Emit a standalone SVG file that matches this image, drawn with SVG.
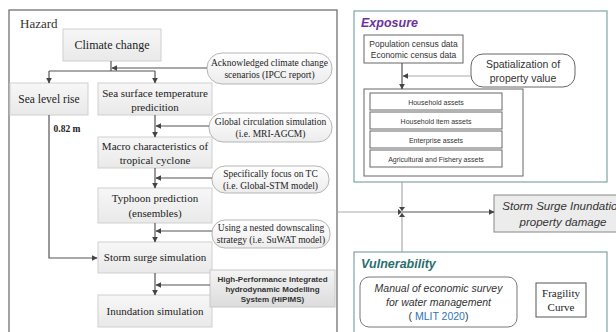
<svg xmlns="http://www.w3.org/2000/svg" width="616" height="332" viewBox="0 0 616 332">
<defs>
<linearGradient id="gbox" x1="0" y1="0" x2="0" y2="1"><stop offset="0" stop-color="#f7f7f7"/><stop offset="1" stop-color="#e9e9e9"/></linearGradient>
<linearGradient id="gpill" x1="0" y1="0" x2="0" y2="1"><stop offset="0" stop-color="#ffffff"/><stop offset="1" stop-color="#ececec"/></linearGradient>
<linearGradient id="ghip" x1="0" y1="0" x2="0" y2="1"><stop offset="0" stop-color="#f4f4f4"/><stop offset="1" stop-color="#dcdcdc"/></linearGradient>
<marker id="ah" viewBox="0 0 10 10" refX="9" refY="5" markerWidth="5" markerHeight="5" orient="auto"><path d="M0,0 L10,5 L0,10 z" fill="#444"/></marker>
<style>
.frame{fill:#fff;stroke:#666;stroke-width:1.2}
.box{fill:url(#gbox);stroke:#cfcfcf;stroke-width:1}
.pill{fill:url(#gpill);stroke:#b5b5b5;stroke-width:1}
.ser{font-family:"Liberation Serif","Times New Roman",serif;fill:#222;text-anchor:middle}
.sans{font-family:"Liberation Sans",Arial,sans-serif;fill:#333;text-anchor:middle}
.ln{fill:none;stroke:#555;stroke-width:1.2}
.lg{fill:none;stroke:#aaa;stroke-width:1.2}
.ebox{fill:#fff;stroke:#666;stroke-width:1}
.tf{fill:#fff;stroke:#7fa3a6;stroke-width:1.2}
</style>
</defs>
<rect width="616" height="332" fill="#fff"/>

<g id="hazard-frame">
<rect class="frame" x="9" y="10" width="328" height="330"/>
<text x="20" y="28" font-family="Liberation Serif,serif" font-size="13" fill="#333">Hazard</text>
</g>

<g id="climate-change"><rect class="box" x="63" y="29" width="98" height="32"/><text class="ser" x="112" y="49" font-size="12">Climate change</text></g>
<g id="sea-level-rise"><rect class="box" x="10" y="83" width="78" height="32"/><text class="ser" x="49" y="103" font-size="11.5">Sea level rise</text></g>
<g id="sst"><rect class="box" x="98" y="83" width="114" height="32"/><text class="ser" x="155" y="97" font-size="11">Sea surface temperature</text><text class="ser" x="155" y="111" font-size="11">predicition</text></g>
<g id="macro"><rect class="box" x="98" y="137" width="114" height="31"/><text class="ser" x="155" y="150" font-size="11">Macro characteristics of</text><text class="ser" x="155" y="164" font-size="11">tropical cyclone</text></g>
<g id="typhoon"><rect class="box" x="98" y="188" width="114" height="35"/><text class="ser" x="155" y="202" font-size="11">Typhoon prediction</text><text class="ser" x="155" y="217" font-size="11">(ensembles)</text></g>
<g id="storm-surge"><rect class="box" x="98" y="242" width="114" height="31"/><text class="ser" x="155" y="261" font-size="11">Storm surge simulation</text></g>
<g id="inundation"><rect class="box" x="98" y="295" width="114" height="32"/><text class="ser" x="155" y="315" font-size="11">Inundation simulation</text></g>
<text class="ser" x="67" y="132" font-size="9.5" font-weight="bold">0.82 m</text>

<g id="ipcc"><rect class="pill" x="207" y="53" width="125" height="31" rx="15"/><text class="ser" x="269.5" y="66" font-size="9.5">Acknowledged climate change</text><text class="ser" x="269.5" y="78" font-size="9.5">scenarios (IPCC report)</text></g>
<g id="agcm"><rect class="pill" x="209" y="113" width="123" height="29" rx="14"/><text class="ser" x="270.5" y="125" font-size="9.5">Global circulation simulation</text><text class="ser" x="270.5" y="137" font-size="9.5">(i.e. MRI-AGCM)</text></g>
<g id="stm"><rect class="pill" x="212" y="166" width="117" height="27" rx="13"/><text class="ser" x="270.5" y="177" font-size="9.5">Specifically focus on TC</text><text class="ser" x="270.5" y="189" font-size="9.5">(i.e. Global-STM model)</text></g>
<g id="suwat"><rect class="pill" x="212" y="220" width="118" height="28" rx="13"/><text class="ser" x="271" y="231" font-size="9.5">Using a nested downscaling</text><text class="ser" x="271" y="243" font-size="9.5">strategy  (i.e. SuWAT model)</text></g>
<g id="hipims"><rect x="210" y="270" width="125" height="37" fill="url(#ghip)" stroke="#c8c8c8"/><text class="sans" x="272.5" y="282" font-size="8" font-weight="bold" fill="#222">High-Performance Integrated</text><text class="sans" x="272.5" y="292" font-size="8" font-weight="bold" fill="#222">hydrodynamic Modelling</text><text class="sans" x="272.5" y="302" font-size="8" font-weight="bold" fill="#222">System (HiPIMS)</text></g>

<g id="exposure-frame">
<rect class="tf" x="354" y="11" width="253" height="171"/>
<text x="361" y="27" font-family="Liberation Sans,Arial,sans-serif" font-size="12.5" font-weight="bold" font-style="italic" fill="#7030a0">Exposure</text>
</g>
<g id="census"><rect class="ebox" x="364" y="35" width="99" height="28"/><text class="sans" x="413.5" y="47" font-size="8.5">Population census data</text><text class="sans" x="413.5" y="58" font-size="8.5">Economic census data</text></g>
<g id="spatialization"><rect class="ebox" x="471" y="54" width="104" height="33" rx="12" stroke="#555"/><text class="sans" x="523" y="68" font-size="10.5">Spatialization of</text><text class="sans" x="523" y="82" font-size="10.5">property value</text></g>
<g id="assets">
<rect class="ebox" x="364" y="89" width="159" height="87"/>
<rect class="ebox" x="370" y="93" width="132" height="17"/><text class="sans" x="436" y="104.5" font-size="7">Household assets</text>
<rect class="ebox" x="370" y="112" width="132" height="17"/><text class="sans" x="436" y="123.5" font-size="7">Household item assets</text>
<rect class="ebox" x="370" y="131" width="132" height="17"/><text class="sans" x="436" y="142.5" font-size="7">Enterprise assets</text>
<rect class="ebox" x="370" y="150" width="132" height="17"/><text class="sans" x="436" y="161.5" font-size="7">Agricultural and Fishery assets</text>
</g>

<g id="damage"><rect x="494" y="195" width="140" height="37" fill="#ececec" stroke="#888"/><text class="sans" x="563" y="210" font-size="11.5" font-style="italic" fill="#222">Storm Surge Inundation</text><text class="sans" x="563" y="226" font-size="11.5" font-style="italic" fill="#222">property damage</text></g>

<g id="vulnerability-frame">
<rect class="tf" x="354" y="252" width="253" height="90"/>
<text x="361" y="268" font-family="Liberation Sans,Arial,sans-serif" font-size="12.5" font-weight="bold" font-style="italic" fill="#2a6e70">Vulnerability</text>
</g>
<g id="manual"><rect x="360" y="277" width="157" height="50" rx="9" fill="#fff" stroke="#777"/><text class="sans" x="438.5" y="292" font-size="10.5" font-style="italic">Manual of economic survey</text><text class="sans" x="438.5" y="306" font-size="10.5" font-style="italic">for water management</text><text class="sans" x="438.5" y="320" font-size="10.5">( <tspan fill="#2e75b6">MLIT 2020</tspan>)</text></g>
<g id="fragility"><rect x="536" y="283" width="50" height="34" fill="#fff" stroke="#555"/><text class="ser" x="561" y="297" font-size="11">Fragility</text><text class="ser" x="561" y="311" font-size="11">Curve</text></g>

<g id="connectors">
<path class="ln" d="M111,61 V71 M49,71 H155"/>
<path class="ln" d="M49,71 V83" marker-end="url(#ah)"/>
<path class="ln" d="M155,71 V83" marker-end="url(#ah)"/>
<path class="ln" d="M207,68 H112" marker-end="url(#ah)"/>
<path class="ln" d="M155,115 V137" marker-end="url(#ah)"/>
<path class="ln" d="M209,126 H156" marker-end="url(#ah)"/>
<path class="ln" d="M155,168 V188" marker-end="url(#ah)"/>
<path class="ln" d="M212,178 H156" marker-end="url(#ah)"/>
<path class="ln" d="M155,223 V242" marker-end="url(#ah)"/>
<path class="ln" d="M212,231 H156" marker-end="url(#ah)"/>
<path class="ln" d="M155,273 V295" marker-end="url(#ah)"/>
<path class="ln" d="M210,285 H156" marker-end="url(#ah)"/>
<path class="ln" d="M49,115 V258 H97" marker-end="url(#ah)"/>
<path class="ln" d="M402,63 V89" marker-end="url(#ah)"/>
<path class="lg" d="M471,76 H403" marker-end="url(#ah)"/>
<path class="lg" d="M337,212 H401"/>
<path class="lg" d="M402,182 V211"/>
<path class="lg" d="M402,252 V213"/>
<path class="ln" d="M402,212 H494" marker-end="url(#ah)"/>
<path d="M398,209 L402,212 L398,215 z M399,207 L405,207 L402,211 z M399,217 L405,217 L402,213 z" fill="#444"/>
</g>
</svg>
